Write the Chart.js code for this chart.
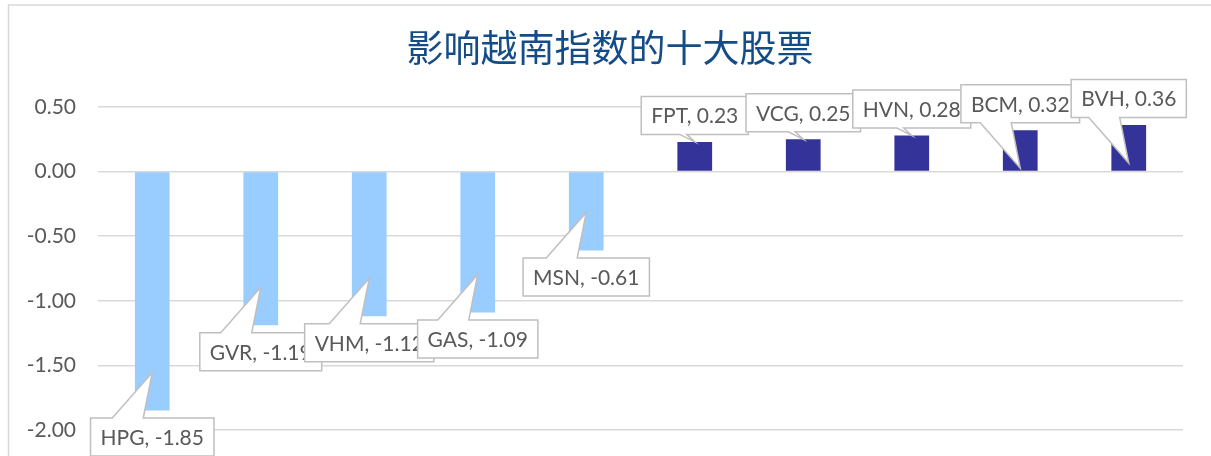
<!DOCTYPE html>
<html>
<head>
<meta charset="utf-8">
<script src="https://cdn.jsdelivr.net/npm/chart.js@4.4.1/dist/chart.umd.min.js"></script>
<style>
  html, body { margin: 0; padding: 0; background: #fff; overflow: hidden; }
  canvas { display: block; }
</style>
</head>
<body>
<canvas id="barChart" width="1211" height="456"></canvas>
<script>
// chart data
var stocks = ["HPG", "GVR", "VHM", "GAS", "MSN", "FPT", "VCG", "HVN", "BCM", "BVH"];
var impact = [-1.85, -1.19, -1.12, -1.09, -0.61, 0.23, 0.25, 0.28, 0.32, 0.36];
var yTicks = [0.5, 0, -0.5, -1, -1.5, -2];
var chartTitle = "影响越南指数的十大股票";

// how far the callout pointer goes past the bar end (px), Excel-like placement
var tipShift = [-38, -38, -38, -38, -38, 0, 0, 0, 38, 38];

const LABEL_FONT = "21px Lato";
const GRID = "#D9D9D9";

// frame + title
const frame = {
  id: "frame",
  beforeDraw(chart) {
    const c = chart.ctx;
    c.save();
    c.strokeStyle = GRID;
    c.lineWidth = 1.5;
    c.beginPath();
    c.moveTo(8.5, 470);
    c.lineTo(8.5, 5);
    c.lineTo(1211, 5);
    c.stroke();
    c.fillStyle = "#134C86";
    c.font = "37px 'Noto Sans CJK SC'";
    c.textAlign = "center";
    c.textBaseline = "middle";
    c.fillText(chartTitle, 610, 48);
    c.restore();
  }
};

// data callouts (white box + pointer)
const callouts = {
  id: "callouts",
  afterDatasetsDraw(chart) {
    const c = chart.ctx;
    const y = chart.scales.y;
    const bars = chart.getDatasetMeta(0).data;
    c.save();
    c.font = LABEL_FONT;
    bars.forEach(function (bar, i) {
      const v = impact[i];
      const txt = stocks[i] + ", " + v.toFixed(2);
      const w = c.measureText(txt).width + 20;
      const h = 38;
      const vy = y.getPixelForValue(v);
      const tx = bar.x;
      const ty = vy + tipShift[i];
      const left = bar.x - w / 2;
      let top, baseY, b1, b2;
      if (v < 0) {
        top = vy + 7.5;
        baseY = top;
      } else {
        top = vy - 45.5;
        baseY = top + h;
      }
      if (tipShift[i] === 0) { b1 = tx - 15; b2 = tx - 8; }
      else { b1 = tx - 40; b2 = tx - 9; }

      c.beginPath();
      if (v < 0) {
        c.moveTo(left, top);
        c.lineTo(b1, top);
        c.lineTo(tx, ty);
        c.lineTo(b2, top);
        c.lineTo(left + w, top);
        c.lineTo(left + w, top + h);
        c.lineTo(left, top + h);
      } else {
        c.moveTo(left, top);
        c.lineTo(left + w, top);
        c.lineTo(left + w, baseY);
        c.lineTo(b2, baseY);
        c.lineTo(tx, ty);
        c.lineTo(b1, baseY);
        c.lineTo(left, baseY);
      }
      c.closePath();
      c.fillStyle = "#fff";
      c.fill();
      c.strokeStyle = "#BFBFBF";
      c.lineWidth = 1.5;
      c.stroke();

      c.fillStyle = "#595959";
      c.textAlign = "left";
      c.textBaseline = "middle";
      c.fillText(txt, left + 10, top + h / 2 + 1);
    });
    c.restore();
  }
};

new Chart(document.getElementById("barChart"), {
  type: "bar",
  data: {
    labels: stocks,
    datasets: [{
      data: impact,
      backgroundColor: impact.map(v => v < 0 ? "#99CCFF" : "#333399"),
      barPercentage: 0.32,
      categoryPercentage: 1.0
    }]
  },
  options: {
    responsive: false,
    animation: false,
    layout: { padding: { left: 0, right: 28, top: 107, bottom: 26 } },
    plugins: { legend: { display: false }, tooltip: { enabled: false } },
    scales: {
      x: { display: false },
      y: {
        min: -2, max: 0.5,
        afterFit(s) { s.width = 98; s.paddingTop = 0; s.paddingBottom = 0; },
        afterBuildTicks(s) { s.ticks = yTicks.map(v => ({ value: v })); },
        border: { display: false },
        grid: { color: GRID, lineWidth: 1.5, drawTicks: false },
        ticks: {
          padding: 22,
          color: "#595959",
          font: { family: "Lato", size: 21 },
          callback: v => v.toFixed(2)
        }
      }
    }
  },
  plugins: [frame, callouts]
});
</script>
</body>
</html>
